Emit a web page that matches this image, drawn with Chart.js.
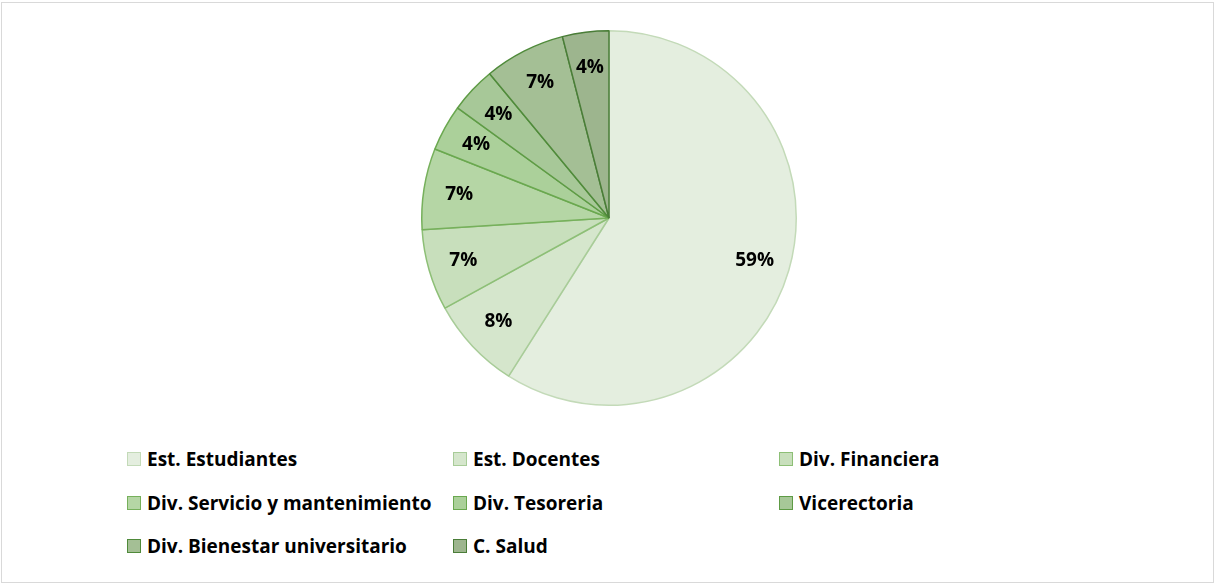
<!DOCTYPE html>
<html lang="es">
<head>
    <meta charset="UTF-8">
    <title>Distribución por dependencia</title>
    <script src="https://cdn.jsdelivr.net/npm/chart.js"></script>
    <style>
        body {
            margin: 0;
            background: #ffffff;
            font-family: "Open Sans", Arial, sans-serif;
        }
        .frame {
            position: absolute;
            left: 1px;
            top: 2px;
            width: 1211px;
            height: 579px;
            border: 1px solid #d9d9d9;
        }
        .chart-box {
            position: absolute;
            left: 0;
            top: 0;
            width: 1215px;
            height: 436px;
        }
        .legend {
            position: absolute;
            left: 0;
            top: 0;
        }
        .legend-item {
            position: absolute;
            display: flex;
            align-items: center;
            font-weight: bold;
            font-size: 19px;
            color: #000;
            white-space: nowrap;
        }
        .legend-item span.box {
            width: 14px;
            height: 14px;
            box-sizing: border-box;
            border: 1px solid;
            margin-right: 6px;
        }
    </style>
</head>
<body>
    <div class="frame"></div>
    <div class="chart-box">
        <canvas id="pieChart"></canvas>
    </div>
    <div class="legend" id="legend"></div>

    <script>
        // Datos del gráfico
        const etiquetas = [
            "Est. Estudiantes",
            "Est. Docentes",
            "Div. Financiera",
            "Div. Servicio y mantenimiento",
            "Div. Tesoreria",
            "Vicerectoria",
            "Div. Bienestar universitario",
            "C. Salud"
        ];
        const porcentajes = [59, 8, 7, 7, 4, 4, 7, 4];

        const colores = ["#e4eedf", "#d5e6cc", "#c8dfbc", "#b5d6a5", "#abd09a", "#a7c898", "#a4bf95", "#9db58e"];
        const bordes = ["#c3dab8", "#a8cc98", "#8dbf76", "#76b05b", "#6aa84f", "#5e9b45", "#4f8a3a", "#4a7d38"];

        // Etiquetas de porcentaje dentro de cada porción
        const etiquetasPlugin = {
            id: "etiquetasPorcentaje",
            afterDatasetsDraw(chart) {
                const ctx = chart.ctx;
                const meta = chart.getDatasetMeta(0);
                ctx.save();
                ctx.font = "bold 19px 'Open Sans', Arial, sans-serif";
                ctx.fillStyle = "#000";
                ctx.textAlign = "center";
                ctx.textBaseline = "middle";
                meta.data.forEach((arc, i) => {
                    const p = arc.getProps(["x", "y", "startAngle", "endAngle", "outerRadius"], true);
                    const mid = (p.startAngle + p.endAngle) / 2;
                    const r = p.outerRadius * 0.81;
                    ctx.fillText(porcentajes[i] + "%", p.x + Math.cos(mid) * r, p.y + Math.sin(mid) * r);
                });
                ctx.restore();
            }
        };

        new Chart(document.getElementById("pieChart"), {
            type: "pie",
            data: {
                labels: etiquetas,
                datasets: [{
                    data: porcentajes,
                    backgroundColor: colores,
                    borderColor: bordes,
                    borderWidth: 1.5
                }]
            },
            options: {
                responsive: true,
                maintainAspectRatio: false,
                animation: false,
                layout: {
                    padding: { top: 30, bottom: 30, left: 3, right: 0 }
                },
                plugins: {
                    legend: { display: false },
                    tooltip: { enabled: false }
                }
            },
            plugins: [etiquetasPlugin]
        });

        // Leyenda en 3 columnas
        const colX = [127, 453, 779];
        const filaY = [459, 503, 546];
        const legend = document.getElementById("legend");
        etiquetas.forEach((nombre, i) => {
            const item = document.createElement("div");
            item.className = "legend-item";
            item.style.left = colX[i % 3] + "px";
            item.style.top = (filaY[Math.floor(i / 3)] - 13) + "px";
            item.style.height = "26px";
            const box = document.createElement("span");
            box.className = "box";
            box.style.background = colores[i];
            box.style.borderColor = bordes[i];
            item.appendChild(box);
            item.appendChild(document.createTextNode(nombre));
            legend.appendChild(item);
        });
    </script>
</body>
</html>
